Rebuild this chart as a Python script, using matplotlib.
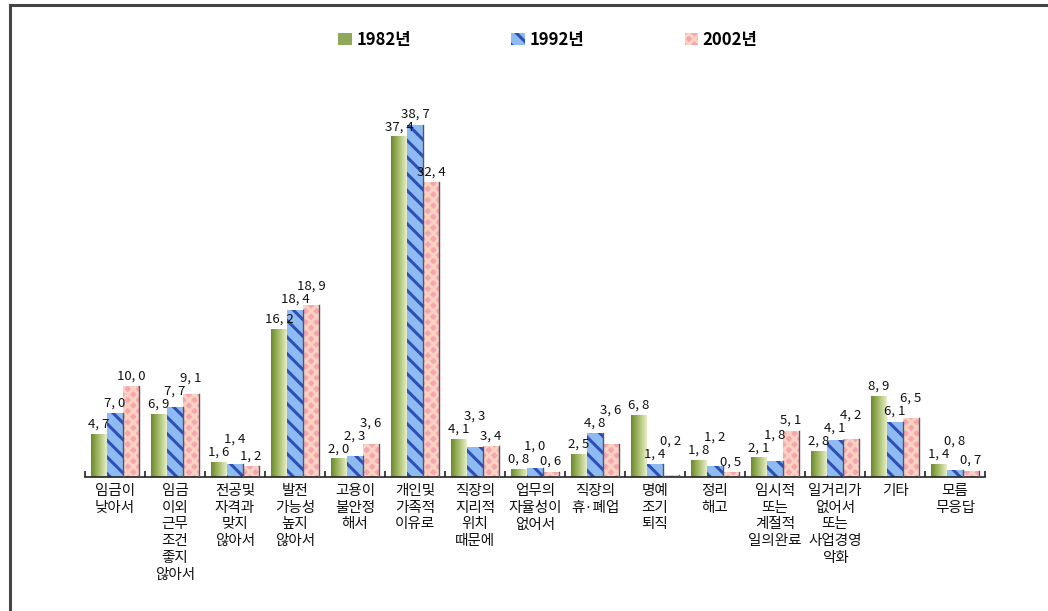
import numpy as np
import matplotlib
matplotlib.use("Agg")
import matplotlib.pyplot as plt
import matplotlib.lines as mlines
from matplotlib.colors import LinearSegmentedColormap

plt.rcParams['font.family'] = ['Noto Sans CJK KR', 'DejaVu Sans']
plt.rcParams['hatch.linewidth'] = 2.2

# ---- data ----
categories = [
    "임금이\n낮아서",
    "임금\n이외\n근무\n조건\n좋지\n않아서",
    "전공및\n자격과\n맞지\n않아서",
    "발전\n가능성\n높지\n않아서",
    "고용이\n불안정\n해서",
    "개인및\n가족적\n이유로",
    "직장의\n지리적\n위치\n때문에",
    "업무의\n자율성이\n없어서",
    "직장의\n휴·폐업",
    "명예\n조기\n퇴직",
    "정리\n해고",
    "임시적\n또는\n계절적\n일의완료",
    "일거리가\n없어서\n또는\n사업경영\n악화",
    "기타",
    "모름\n무응답",
]
series_names = ["1982년", "1992년", "2002년"]
v1982 = [4.7, 6.9, 1.6, 16.2, 2.0, 37.4, 4.1, 0.8, 2.5, 6.8, 1.8, 2.1, 2.8, 8.9, 1.4]
v1992 = [7.0, 7.7, 1.4, 18.4, 2.3, 38.7, 3.3, 1.0, 4.8, 1.4, 1.2, 1.8, 4.1, 6.1, 0.8]
v2002 = [10.0, 9.1, 1.2, 18.9, 3.6, 32.4, 3.4, 0.6, 3.6, 0.2, 0.5, 5.1, 4.2, 6.5, 0.7]

fig = plt.figure(figsize=(10.48, 6.11), dpi=100)
fig.patch.set_facecolor("white")

# frame (only top and left edges are visible in the original)
fig.add_artist(mlines.Line2D([10/1048, 10/1048], [0, 1 - 5/611], color="#444444", lw=2.2))
fig.add_artist(mlines.Line2D([10/1048, 1], [1 - 5/611, 1 - 5/611], color="#444444", lw=2.2))

ax = fig.add_axes([85/1048, 134/611, 900/1048, 382/611])

x = np.arange(len(categories))
w = 0.8 / 3
ymax = 42

bars_g = ax.bar(x - w, v1982, w, color="#8FA85A", edgecolor="none", zorder=2)
bars_b = ax.bar(x, v1992, w, color="#8DBBF2", edgecolor="#2F4FB8", hatch="\\\\", linewidth=0, zorder=2)
bars_p = ax.bar(x + w, v2002, w, color="#F6A4B0", edgecolor="#FBD2C0", hatch="xxx", linewidth=0, zorder=2)

# green bars: gradient fill, dark left -> light right
green_cmap = LinearSegmentedColormap.from_list("g", ["#6B8A2C", "#A9BE6E", "#E6EDC8"])
grad = np.tile(np.linspace(0, 1, 40), (2, 1))
for b in bars_g:
    b.set_facecolor("none")
    ax.imshow(grad, cmap=green_cmap, aspect="auto", zorder=2,
              extent=[b.get_x(), b.get_x() + b.get_width(), 0, b.get_height()])

# dark right edge on blue / pink bars
for b in list(bars_b) + list(bars_p):
    xr = b.get_x() + b.get_width()
    ax.plot([xr, xr], [0, b.get_height()], color="#555566", lw=1, zorder=3)

# value labels, nudged upward when they would collide with a neighbour
px_x = 900 / len(categories)      # pixels per x unit
px_y = 382 / ymax                 # pixels per y unit
lab_h = 13 / px_y
items = []
for bars, vals in [(bars_g, v1982), (bars_b, v1992), (bars_p, v2002)]:
    for b, v in zip(bars, vals):
        items.append((b.get_x() + b.get_width() / 2, v, f"{v:.1f}".replace(".", ", ")))
items.sort(key=lambda t: t[0])
placed = []
for xc, v, s in items:
    lw_ = (len(s) * 5.6 + 2) / px_x
    y = v + 0.4
    for _ in range(20):
        hit = None
        for pxc, py, pw in placed:
            if abs(xc - pxc) < (lw_ + pw) / 2 and abs(y - py) < lab_h - 1e-6:
                hit = py
                break
        if hit is None:
            break
        y = hit + lab_h
    placed.append((xc, y, lw_))
    ax.text(xc, y, s, ha="center", va="bottom", fontsize=9.5, color="#111111", zorder=4)

ax.set_xlim(-0.5, len(categories) - 0.5)
ax.set_ylim(0, ymax)
for s in ["top", "right", "left"]:
    ax.spines[s].set_visible(False)
ax.spines["bottom"].set_color("#222222")
ax.spines["bottom"].set_linewidth(1.2)
ax.set_yticks([])
ax.set_xticks(x)
ax.set_xticklabels(categories, fontsize=10.5, linespacing=1.25, color="#111111")
ax.tick_params(axis="x", which="major", length=0, pad=5)
ax.set_xticks(np.arange(len(categories) + 1) - 0.5, minor=True)
ax.tick_params(axis="x", which="minor", direction="in", length=4, width=1.2, color="#222222")

# legend
handles = [plt.Rectangle((0, 0), 1, 1, facecolor="#8FA85A", edgecolor="none"),
           plt.Rectangle((0, 0), 1, 1, facecolor="#8DBBF2", edgecolor="#2F4FB8", hatch="\\\\", linewidth=0),
           plt.Rectangle((0, 0), 1, 1, facecolor="#F6A4B0", edgecolor="#FBD2C0", hatch="xxx", linewidth=0)]
fig.legend(handles, series_names, loc="center", bbox_to_anchor=(0.523, 0.935), ncol=3,
           frameon=False, columnspacing=6.0, handlelength=0.8, handleheight=0.8, handletextpad=0.3,
           prop={"size": 12, "weight": "bold"})

fig.savefig("out.png", dpi=100)
